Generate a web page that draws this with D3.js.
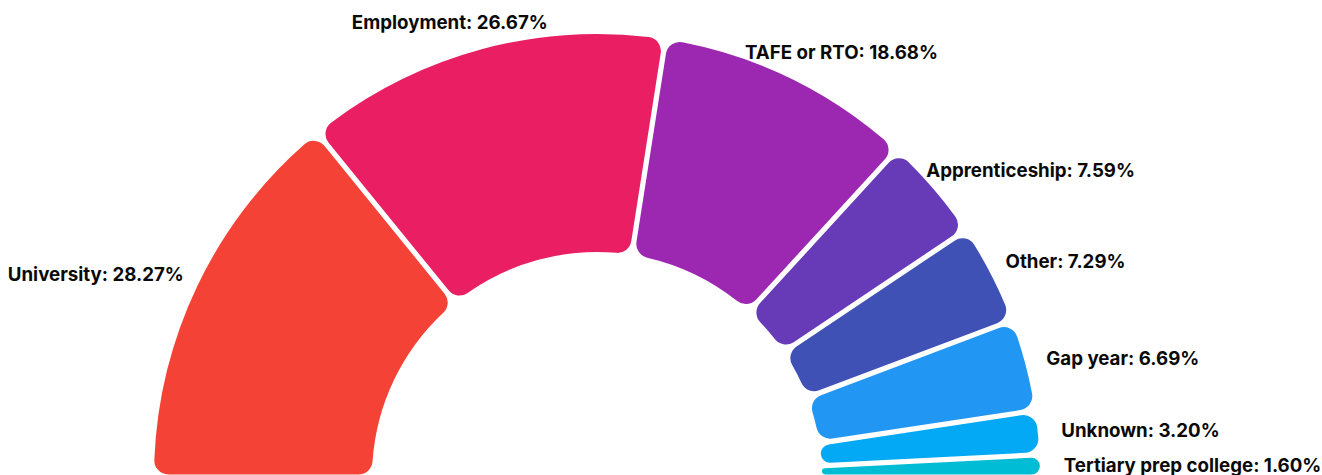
<!DOCTYPE html>
<html>
<head>
<meta charset="utf-8">
<script src="https://cdn.jsdelivr.net/npm/d3@7"></script>
<style>
  html, body { margin: 0; padding: 0; background: #fff; overflow: hidden; }
  svg { display: block; }
</style>
</head>
<body>
<svg id="chart" width="1322" height="475"></svg>
<script>
const categories = ["University", "Employment", "TAFE or RTO", "Apprenticeship", "Other", "Gap year", "Unknown", "Tertiary prep college"];
const values = [28.27, 26.67, 18.68, 7.59, 7.29, 6.69, 3.20, 1.60];
const colors = ["#F44336", "#E91E63", "#9C27B0", "#673AB7", "#3F51B5", "#2196F3", "#03A9F4", "#00BCD4"];

const width = 1322, height = 475;
const cx = 597, cy = 477;
const outerR = 443, innerR = 225, labelR = 467;
const fontSize = 18.7;

const svg = d3.select("#chart");
const g = svg.append("g").attr("transform", `translate(${cx},${cy})`);

const data = categories.map((c, i) => ({ name: c, value: values[i], color: colors[i] }));

const pie = d3.pie()
  .value(d => d.value)
  .sort(null)
  .startAngle(-Math.PI / 2)
  .endAngle(Math.PI / 2);

const arc = d3.arc()
  .innerRadius(innerR)
  .outerRadius(outerR)
  .cornerRadius(14)
  .padAngle(0.0105);

const arcs = pie(data);

g.selectAll("path.slice")
  .data(arcs)
  .join("path")
  .attr("class", "slice")
  .attr("d", arc)
  .attr("fill", d => d.data.color);

const labels = g.selectAll("text.label")
  .data(arcs)
  .join("text")
  .attr("class", "label")
  .attr("font-family", "Inter, 'Liberation Sans', Arial, sans-serif")
  .attr("font-weight", 700)
  .attr("font-size", fontSize)
  .attr("fill", "#0a0a0a")
  .attr("text-anchor", "middle")
  .text(d => `${d.data.name}: ${d.data.value.toFixed(2)}%`);

labels.each(function(d) {
  const a = (d.startAngle + d.endAngle) / 2;
  const s = Math.sin(a), c = Math.cos(a);
  const w = this.getComputedTextLength();
  const centerX = labelR * s + w * s / 2;
  const capCenterY = -labelR * c - 4 * c;
  d3.select(this).attr("x", centerX).attr("y", capCenterY + 0.727 * fontSize / 2);
});
</script>
</body>
</html>
